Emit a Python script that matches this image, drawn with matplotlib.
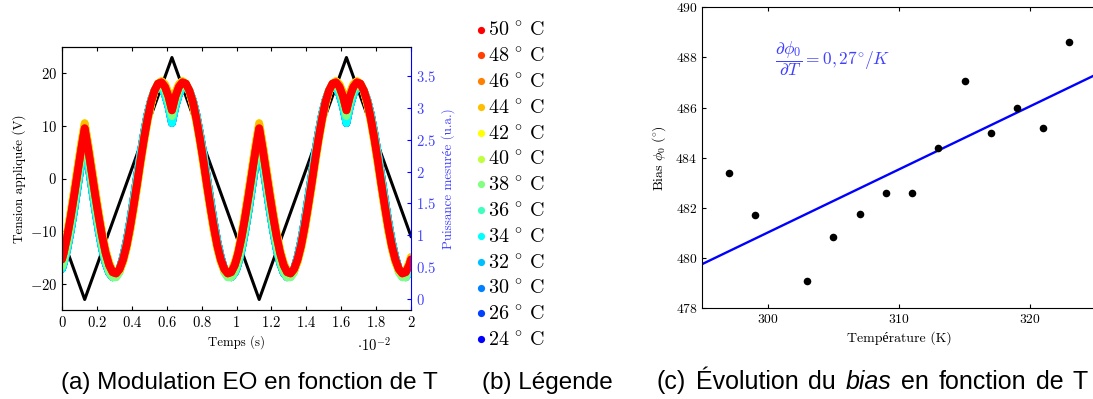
import numpy as np
import matplotlib
matplotlib.use("Agg")
import matplotlib.pyplot as plt
from matplotlib.ticker import FuncFormatter, MultipleLocator

plt.rcParams["font.family"] = ["cmr10", "Liberation Serif"]
plt.rcParams["mathtext.fontset"] = "cm"
plt.rcParams["axes.formatter.use_mathtext"] = True

# (a) applied voltage, triangle wave corners (time in 1e-2 s, volts)
drive_t = [0, 0.13, 0.63, 1.13, 1.63, 2.0]
drive_v = [-11, -23, 23, -23, 23, -11]

# (a) measured power over one drive period (time in 1e-2 s, power in u.a.)
period_t = [0, 0.01, 0.03, 0.05, 0.07, 0.09, 0.11,
            0.13, 0.15, 0.17, 0.19, 0.21, 0.23, 0.25, 0.27, 0.29, 0.31, 0.33, 0.35, 0.37,
            0.39, 0.41, 0.43, 0.45, 0.47, 0.49, 0.51, 0.53, 0.55, 0.57, 0.59, 0.61, 0.63,
            0.65, 0.67, 0.69, 0.71, 0.73, 0.75, 0.77, 0.79, 0.81, 0.83, 0.85, 0.87, 0.89,
            0.91, 0.93, 0.95, 0.97, 0.99, 1.00]
power_hot = [0.62, 0.72, 0.98, 1.29, 1.63, 1.99, 2.35,
             2.68, 2.35, 1.99, 1.63, 1.29, 0.98, 0.72, 0.53, 0.42, 0.40, 0.47, 0.62, 0.84,
             1.13, 1.46, 1.81, 2.18, 2.52, 2.83, 3.09, 3.27, 3.38, 3.40, 3.33, 3.18, 2.96,
             3.18, 3.33, 3.40, 3.38, 3.27, 3.09, 2.83, 2.52, 2.18, 1.81, 1.46, 1.13, 0.84,
             0.62, 0.47, 0.40, 0.42, 0.53, 0.62]
power_warm = [0.66, 0.77, 1.04, 1.37, 1.72, 2.08, 2.44,
              2.76, 2.44, 2.08, 1.72, 1.37, 1.04, 0.77, 0.57, 0.44, 0.40, 0.45, 0.58, 0.79,
              1.06, 1.39, 1.74, 2.11, 2.46, 2.78, 3.05, 3.25, 3.38, 3.42, 3.37, 3.24, 3.03,
              3.24, 3.37, 3.42, 3.38, 3.25, 3.05, 2.78, 2.46, 2.11, 1.74, 1.39, 1.06, 0.79,
              0.58, 0.45, 0.40, 0.44, 0.57, 0.66]
power_mid = [0.51, 0.60, 0.85, 1.16, 1.50, 1.87, 2.23,
             2.58, 2.23, 1.87, 1.50, 1.16, 0.85, 0.60, 0.43, 0.34, 0.34, 0.42, 0.60, 0.84,
             1.14, 1.48, 1.85, 2.21, 2.56, 2.86, 3.11, 3.28, 3.37, 3.37, 3.28, 3.11, 2.87,
             3.11, 3.28, 3.37, 3.37, 3.28, 3.11, 2.86, 2.56, 2.21, 1.85, 1.48, 1.14, 0.84,
             0.60, 0.42, 0.34, 0.34, 0.43, 0.51]
power_cold = [0.47, 0.56, 0.78, 1.07, 1.40, 1.76, 2.12,
              2.46, 2.12, 1.76, 1.40, 1.07, 0.78, 0.56, 0.41, 0.34, 0.36, 0.47, 0.66, 0.91,
              1.22, 1.57, 1.93, 2.29, 2.61, 2.90, 3.12, 3.27, 3.34, 3.32, 3.21, 3.02, 2.76,
              3.02, 3.21, 3.32, 3.34, 3.27, 3.12, 2.90, 2.61, 2.29, 1.93, 1.57, 1.22, 0.91,
              0.66, 0.47, 0.36, 0.34, 0.41, 0.47]

temps_c = [50, 48, 46, 44, 42, 40, 38, 36, 34, 32, 30, 26, 24]
temp_colors = ["#ff0000", "#ff4000", "#ff8000", "#ffbf00", "#ffff00", "#bfff40", "#80ff80",
               "#40ffbf", "#00ffff", "#00bfff", "#0080ff", "#0040ff", "#0000ff"]
# curves of neighbouring temperatures cannot be told apart in the figure
temp_curves = [power_hot, power_hot, power_hot, power_warm, power_warm, power_warm,
               power_mid, power_mid, power_cold, power_cold, power_cold, power_cold,
               power_cold]

# (c) bias vs temperature
temp_K = [297, 299, 303, 305, 307, 309, 311, 313, 315, 317, 319, 321, 323]
bias_deg = [483.4, 481.7, 479.1, 480.85, 481.75, 482.6, 482.6, 484.4, 487.05, 485.0,
            486.0, 485.2, 488.6]

W, H = 1093, 399
fig = plt.figure(figsize=(W / 100, H / 100), dpi=100)


def px_axes(x0, y0, x1, y1):
    return fig.add_axes([x0 / W, 1 - y1 / H, (x1 - x0) / W, (y1 - y0) / H])


fmt = FuncFormatter(lambda v, pos: f"${v:g}$")
blue_txt = (0.25, 0.25, 1.0)

# ---- (a) modulation
ax1 = px_axes(62, 47, 411, 310)
ax1.plot(drive_t, drive_v, color="black", lw=2.2)
ax1.set_xlim(0, 2)
ax1.set_ylim(-25, 25)
ax1.xaxis.set_major_locator(MultipleLocator(0.2))
ax1.yaxis.set_major_locator(MultipleLocator(10))
ax1.xaxis.set_major_formatter(fmt)
ax1.yaxis.set_major_formatter(fmt)
ax1.tick_params(direction="in", top=True, right=False, length=3, labelsize=10.5)
ax1.spines["right"].set_visible(False)
ax1.set_xlabel("Temps (s)", fontsize=9.3, labelpad=4)
ax1.set_ylabel("Tension appliquée (V)", fontsize=9.5, labelpad=3)
ax1.text(1.79, -31.6, r"$\cdot 10^{-2}$", fontsize=10.5, ha="center", va="center")

ax2 = ax1.twinx()
t_two = period_t + [t + 1 for t in period_t[1:]]
for temp, col, p in list(zip(temps_c, temp_colors, temp_curves))[::-1]:
    ax2.plot(t_two, p + p[1:], color=col, lw=5.5, solid_capstyle="round",
             solid_joinstyle="round")
ax2.set_ylim(-0.173, 3.955)
ax2.yaxis.set_major_locator(MultipleLocator(0.5))
ax2.yaxis.set_major_formatter(fmt)
ax2.tick_params(direction="in", length=3, labelsize=10.5, colors=blue_txt)
ax2.tick_params(axis="y", color="blue")
ax2.spines["right"].set_color("blue")
ax2.set_ylabel("Puissance mesurée (u.a.)", fontsize=9.4, color=blue_txt, labelpad=4)

# ---- (c) bias
ax3 = px_axes(702.3, 7.3, 1095.6, 308.3)
ax3.scatter(temp_K, bias_deg, s=30, color="black", zorder=3, linewidths=0)
slope, icpt = np.polyfit(temp_K, bias_deg, 1)
fit_T = np.array([295, 325])
ax3.plot(fit_T, slope * fit_T + icpt, color="blue", lw=1.7)
ax3.set_xlim(295, 325)
ax3.set_ylim(478, 490)
ax3.set_xticks([300, 310, 320])
ax3.yaxis.set_major_locator(MultipleLocator(2))
ax3.xaxis.set_major_formatter(fmt)
ax3.yaxis.set_major_formatter(fmt)
ax3.tick_params(direction="in", top=True, right=False, length=3, labelsize=9.8)
ax3.set_xlabel("Température (K)", fontsize=10, labelpad=4)
ax3.set_ylabel(r"$\mathrm{Bias}\ \phi_0\ (^{\circ})$", fontsize=10, labelpad=5)
ax3.text(300.55, 487.95, r"$\dfrac{\partial \phi_0}{\partial T} = 0,27^{\circ}/K$",
         color=blue_txt, fontsize=12.5, va="center", ha="left")

# ---- overlay in pixel units: legend (b) and captions
ov = fig.add_axes([0, 0, 1, 1])
ov.set_xlim(0, W)
ov.set_ylim(H, 0)
ov.axis("off")
for i, (temp, col) in enumerate(zip(temps_c, temp_colors)):
    y = 29.5 + 25.8 * i
    ov.plot(480.7, y, "o", color=col, ms=5.2, mec="none")
    ov.text(488, y + 1, rf"${temp}\ {{}}^{{\circ}}\ \mathrm{{C}}$", fontsize=14.5,
            va="center", ha="left")

cap = dict(fontsize=17.5, family="Liberation Sans", va="baseline")
ov.text(249, 389, "(a) Modulation EO en fonction de T", ha="center", **cap)
ov.text(547, 389, "(b) Légende", ha="center", **cap)

# caption (c) has an italic word: lay the words out one by one between 657 and 1088 px
renderer = fig.canvas.get_renderer()
words = [("(c)", "normal"), ("Évolution", "normal"), ("du", "normal"), ("bias", "italic"),
         ("en", "normal"), ("fonction", "normal"), ("de", "normal"), ("T", "normal")]
cap_c = dict(cap, fontsize=18)
texts = [ov.text(0, 389, w, ha="left", style=s, **cap_c) for w, s in words]
widths = [t.get_window_extent(renderer).width for t in texts]
gap = (1088 - 657 - sum(widths)) / (len(words) - 1)
x = 657
for t, w in zip(texts, widths):
    t.set_x(x)
    x += w + gap

fig.savefig("out.png", dpi=100)
